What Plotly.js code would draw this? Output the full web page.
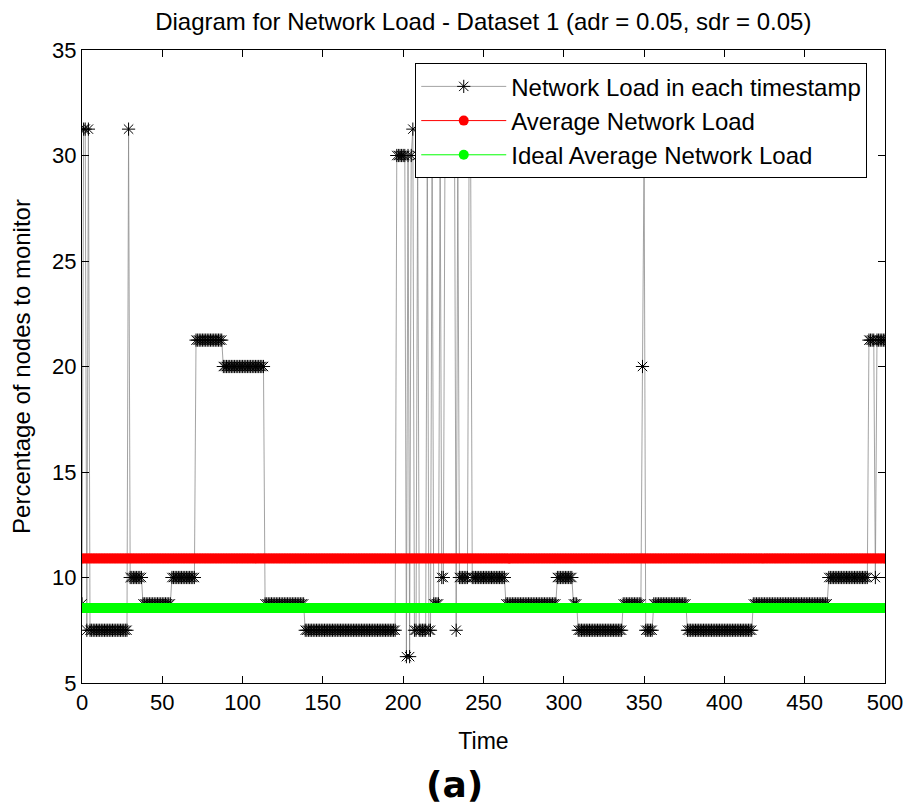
<!DOCTYPE html>
<html>
<head>
<meta charset="utf-8">
<script src="https://cdn.plot.ly/plotly-3.0.1.min.js"></script>
<style>
  html, body { margin: 0; padding: 0; background: #ffffff; }
  #chart { width: 911px; height: 809px; }
</style>
</head>
<body>
<div id="chart"></div>
<script>
const loadLevels = [8.75, 31.25, 7.5, 31.25, 7.5, 31.25, 10, 8.75, 10, 21.25, 20, 8.75, 7.5,
  30, 6.25, 30, 6.25, 30, 31.25, 7.5, 30, 7.5, 30, 7.5, 30, 8.75, 30, 10, 30, 7.5, 30, 10, 30, 10,
  8.75, 10, 8.75, 7.5, 8.75, 20, 30, 7.5, 8.75, 7.5, 8.75, 10, 21.25, 10, 21.25];
const loadRunLengths = [1, 2, 1, 1, 24, 1, 8, 18, 15, 17, 26, 25, 57,
  6, 1, 1, 1, 1, 1, 2, 1, 5, 1, 2, 1, 4, 1, 2, 7, 1, 1, 6, 2, 21,
  32, 10, 3, 28, 12, 1, 1, 5, 21, 41, 47, 25, 4, 1, 6];
const averageLoad = 10.9;
const idealAverageLoad = 8.55;
const xTicks = [0, 50, 100, 150, 200, 250, 300, 350, 400, 450, 500];
const yTicks = [5, 10, 15, 20, 25, 30, 35];
const seriesNames = ['Network Load in each timestamp', 'Average Network Load', 'Ideal Average Network Load'];

const timeStamps = [];
const loadValues = [];
loadLevels.forEach((lvl, i) => {
  for (let k = 0; k < loadRunLengths[i]; k++) {
    timeStamps.push(timeStamps.length);
    loadValues.push(lvl);
  }
});
const avgValues = timeStamps.map(() => averageLoad);
const idealValues = timeStamps.map(() => idealAverageLoad);

const FONT = '"Liberation Sans", Arial, Helvetica, sans-serif';

const traces = [
  {
    x: timeStamps, y: loadValues, name: seriesNames[0], type: 'scatter', mode: 'lines+markers',
    legendgroup: 'a',
    line: { color: '#8c8c8c', width: 0.8 },
    marker: { symbol: 'asterisk-open', size: 11, color: '#000000', line: { color: '#000000', width: 1 } }
  },
  {
    x: timeStamps, y: avgValues, name: seriesNames[1], type: 'scatter', mode: 'lines+markers',
    legendgroup: 'b',
    line: { color: '#ff0000', width: 1 },
    marker: { symbol: 'circle', size: 10, color: '#ff0000' }
  },
  {
    x: timeStamps, y: idealValues, name: seriesNames[2], type: 'scatter', mode: 'lines+markers',
    legendgroup: 'c',
    line: { color: '#00ff00', width: 1 },
    marker: { symbol: 'circle', size: 10, color: '#00ff00' }
  }
];

const axisCommon = {
  showgrid: false, zeroline: false, showline: true, linecolor: '#000000', linewidth: 1,
  mirror: 'ticks', ticks: 'inside', ticklen: 7, tickcolor: '#000000', tickwidth: 1,
  tickfont: { family: FONT, size: 22, color: '#000000' }, automargin: false
};

const layout = {
  width: 911, height: 809,
  paper_bgcolor: '#ffffff', plot_bgcolor: '#ffffff',
  margin: { l: 82, r: 26, t: 50, b: 126 },
  title: {
    text: 'Diagram for Network Load - Dataset 1 (adr = 0.05, sdr = 0.05)',
    font: { family: FONT, size: 24, color: '#000000' },
    x: 0.5305, xanchor: 'center', y: 0.973, yanchor: 'middle'
  },
  xaxis: Object.assign({}, axisCommon, {
    range: [0, 500], tickvals: xTicks, ticktext: xTicks.map(String),
    title: { text: 'Time', font: { family: FONT, size: 23, color: '#000000' }, standoff: 18 }
  }),
  yaxis: Object.assign({}, axisCommon, {
    range: [5, 35], tickvals: yTicks, ticktext: yTicks.map(String),
    title: { text: 'Percentage of nodes to monitor', font: { family: FONT, size: 24, color: '#000000' }, standoff: 14 }
  }),
  showlegend: true,
  legend: {
    x: 0.415, y: 0.979, xanchor: 'left', yanchor: 'top',
    bgcolor: '#ffffff', bordercolor: '#000000', borderwidth: 1,
    font: { family: FONT, size: 24, color: '#000000' },
    traceorder: 'grouped', tracegroupgap: 0, itemwidth: 85
  },
  annotations: [{
    text: '<b>(a)</b>', xref: 'paper', yref: 'paper', x: 0.4645, y: -0.161,
    xanchor: 'center', yanchor: 'middle', showarrow: false,
    font: { family: '"DejaVu Sans", sans-serif', size: 36, color: '#000000' }
  }]
};

Plotly.newPlot('chart', traces, layout, { displayModeBar: false, staticPlot: true });
</script>
</body>
</html>
